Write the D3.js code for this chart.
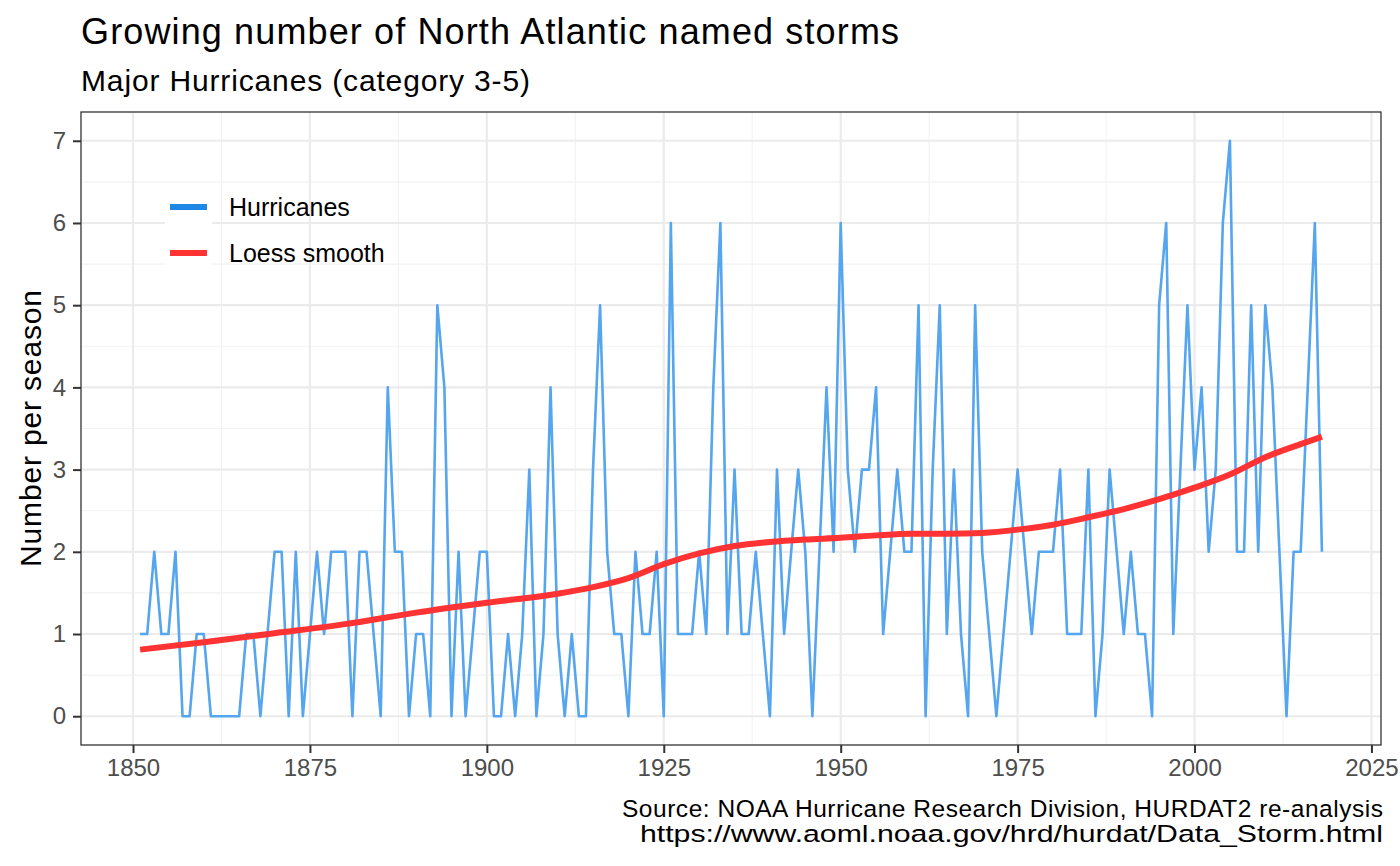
<!DOCTYPE html>
<meta charset="utf-8">
<style>
body { margin: 0; background: #fff; }
text { font-family: "Liberation Sans", Arial, sans-serif; }
.grid-major { stroke: #ebebeb; stroke-width: 2.2px; }
.grid-minor { stroke: #f2f2f2; stroke-width: 1.1px; }
</style>
<body>
<script src="https://d3js.org/d3.v7.min.js"></script>
<script>

// years and number of major hurricanes per season
var years = d3.range(1851, 2019);
var majors = [
  1,1,2,1,1,2,0,0,1,1, 0,0,0,0,0,1,1,0,1,2,   // 1851-1870
  2,0,2,0,1,2,1,2,2,2, 0,2,2,1,0,4,2,2,0,1,   // 1871-1890
  1,0,5,4,0,2,0,1,2,2, 0,0,1,0,1,3,0,1,4,1,   // 1891-1910
  0,1,0,0,3,5,2,1,1,0, 2,1,1,2,0,6,1,1,1,2,   // 1911-1930
  1,4,6,1,3,1,1,2,1,0, 3,1,2,3,2,0,2,4,2,6,   // 1931-1950
  3,2,3,3,4,1,2,3,2,2, 5,0,3,5,1,3,1,0,5,2,   // 1951-1970
  1,0,1,2,3,2,1,2,2,2, 3,1,1,1,3,0,1,3,2,1,   // 1971-1990
  2,1,1,0,5,6,1,3,5,3, 4,2,3,6,7,2,2,5,2,5,   // 1991-2010
  4,2,0,2,2,4,6,2                             // 2011-2018
];

// loess smooth
var smoothYears  = [1851,1860,1870,1880,1890,1900,1910,1915,1920,1925,1930,1935,1940,1945,1950,
                    1955,1960,1965,1970,1975,1980,1985,1990,1995,2000,2005,2010,2015,2018];
var smoothValues = [0.81,0.90,1.01,1.12,1.26,1.38,1.49,1.57,1.68,1.85,1.98,2.07,2.12,2.15,2.17,
                    2.20,2.22,2.22,2.23,2.27,2.33,2.42,2.52,2.64,2.78,2.94,3.15,3.31,3.40];

var xTicks = [1850, 1875, 1900, 1925, 1950, 1975, 2000, 2025];
var yTicks = [0, 1, 2, 3, 4, 5, 6, 7];

var W = 1400, H = 866;
var panel = {left: 81, right: 1381, top: 112, bottom: 745};

var svg = d3.select("body").append("svg")
    .attr("width", W)
    .attr("height", H);

// scales with ggplot style 5% expansion
var x = d3.scaleLinear().domain([1842.65, 2026.35]).range([panel.left, panel.right]);
var y = d3.scaleLinear().domain([-0.35, 7.35]).range([panel.bottom, panel.top]);

// minor grid
var xMinor = d3.range(1837.5, 2030, 25).filter(function(d) { return d > 1842.65 && d < 2026.35; });
var yMinor = d3.range(0.5, 7.35, 1);
svg.selectAll(".xminor").data(xMinor).enter().append("line")
    .attr("class", "grid-minor")
    .attr("x1", function(d) { return x(d); }).attr("x2", function(d) { return x(d); })
    .attr("y1", panel.top).attr("y2", panel.bottom);
svg.selectAll(".yminor").data(yMinor).enter().append("line")
    .attr("class", "grid-minor")
    .attr("x1", panel.left).attr("x2", panel.right)
    .attr("y1", function(d) { return y(d); }).attr("y2", function(d) { return y(d); });

// major grid
svg.selectAll(".xmajor").data(xTicks).enter().append("line")
    .attr("class", "grid-major")
    .attr("x1", function(d) { return x(d); }).attr("x2", function(d) { return x(d); })
    .attr("y1", panel.top).attr("y2", panel.bottom);
svg.selectAll(".ymajor").data(yTicks).enter().append("line")
    .attr("class", "grid-major")
    .attr("x1", panel.left).attr("x2", panel.right)
    .attr("y1", function(d) { return y(d); }).attr("y2", function(d) { return y(d); });

// hurricanes line
var data = years.map(function(yr, i) { return {year: yr, n: majors[i]}; });
svg.append("path")
    .datum(data)
    .attr("fill", "none")
    .attr("stroke", "#55a5ef")
    .attr("stroke-width", 2.6)
    .attr("stroke-linejoin", "round")
    .attr("d", d3.line()
        .x(function(d) { return x(d.year); })
        .y(function(d) { return y(d.n); }));

// loess smooth
var smooth = smoothYears.map(function(yr, i) { return {year: yr, v: smoothValues[i]}; });
svg.append("path")
    .datum(smooth)
    .attr("fill", "none")
    .attr("stroke", "#ff3333")
    .attr("stroke-width", 6)
    .attr("d", d3.line()
        .curve(d3.curveMonotoneX)
        .x(function(d) { return x(d.year); })
        .y(function(d) { return y(d.v); }));

// legend (only the key boxes are white)
var legend = svg.append("g").attr("transform", "translate(165,184)");
var legendItems = [
  {label: "Hurricanes", color: "#1e88e5"},
  {label: "Loess smooth", color: "#ff3333"}
];
legendItems.forEach(function(d, i) {
  var cy = 23 + i * 46;
  legend.append("rect")
      .attr("x", 0).attr("y", cy - 23)
      .attr("width", 47).attr("height", 46)
      .attr("fill", "#fff");
  legend.append("line")
      .attr("x1", 5).attr("x2", 42)
      .attr("y1", cy).attr("y2", cy)
      .attr("stroke", d.color)
      .attr("stroke-width", 6);
  legend.append("text")
      .attr("x", 64).attr("y", cy)
      .attr("dy", "0.35em")
      .style("font-size", "25px")
      .style("fill", "#000")
      .text(d.label);
});

// panel border
svg.append("rect")
    .attr("x", panel.left).attr("y", panel.top)
    .attr("width", panel.right - panel.left)
    .attr("height", panel.bottom - panel.top)
    .attr("fill", "none")
    .attr("stroke", "#333333")
    .attr("stroke-width", 1.3);

// x axis
var xAxis = svg.append("g")
    .attr("transform", "translate(0," + panel.bottom + ")")
    .call(d3.axisBottom(x).tickValues(xTicks).tickFormat(d3.format("d")).tickSize(8).tickPadding(6));
xAxis.select(".domain").remove();
xAxis.selectAll("line").attr("stroke", "#333333").attr("stroke-width", 2);
xAxis.selectAll("text").style("font-size", "24px").style("fill", "#4d4d4d")
    .style("font-family", "Liberation Sans, Arial, sans-serif");

// y axis
var yAxis = svg.append("g")
    .attr("transform", "translate(" + panel.left + ",0)")
    .call(d3.axisLeft(y).tickValues(yTicks).tickFormat(d3.format("d")).tickSize(8).tickPadding(7));
yAxis.select(".domain").remove();
yAxis.selectAll("line").attr("stroke", "#333333").attr("stroke-width", 2);
yAxis.selectAll("text").style("font-size", "24px").style("fill", "#4d4d4d")
    .style("font-family", "Liberation Sans, Arial, sans-serif");

// y axis title
svg.append("text")
    .attr("transform", "translate(41," + ((panel.top + panel.bottom) / 2) + ") rotate(-90)")
    .style("text-anchor", "middle")
    .style("font-size", "30px")
    .attr("textLength", 277)
    .text("Number per season");

// titles
svg.append("text")
    .attr("x", 81).attr("y", 44)
    .style("font-size", "36px")
    .attr("textLength", 818)
    .text("Growing number of North Atlantic named storms");
svg.append("text")
    .attr("x", 81).attr("y", 91)
    .style("font-size", "30px")
    .attr("textLength", 449)
    .text("Major Hurricanes (category 3-5)");

// caption
svg.append("text")
    .attr("x", 1383).attr("y", 817)
    .style("text-anchor", "end")
    .style("font-size", "24.5px")
    .attr("textLength", 761)
    .text("Source: NOAA Hurricane Research Division, HURDAT2 re-analysis");
svg.append("text")
    .attr("x", 1383).attr("y", 842)
    .style("text-anchor", "end")
    .style("font-size", "24.5px")
    .attr("textLength", 743)
    .attr("lengthAdjust", "spacingAndGlyphs")
    .text("https://www.aoml.noaa.gov/hrd/hurdat/Data_Storm.html");

</script>
</body>
